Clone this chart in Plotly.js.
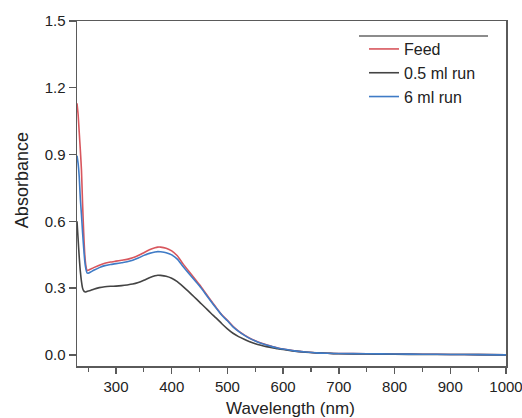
<!DOCTYPE html>
<html>
<head>
<meta charset="utf-8">
<script src="https://cdn.plot.ly/plotly-3.0.1.min.js"></script>
<style>html,body{margin:0;padding:0;background:#fff;}#chart{width:522px;height:418px;}</style>
</head>
<body>
<div id="chart"></div>
<script>
const wavelength = [230, 232, 234, 236, 238, 240, 242, 244, 246, 248, 250, 255, 260, 270, 280, 290, 300, 310, 320, 330, 340, 350, 360, 370, 375, 380, 390, 400, 410, 420, 430, 440, 450, 460, 470, 480, 490, 500, 510, 520, 530, 540, 550, 560, 570, 580, 590, 600, 620, 640, 660, 680, 700, 750, 800, 850, 900, 950, 1000];
const feed = [1.13, 1.08, 1.0, 0.92, 0.83, 0.68, 0.55, 0.45, 0.40, 0.38, 0.38, 0.386, 0.392, 0.403, 0.412, 0.417, 0.421, 0.425, 0.429, 0.436, 0.446, 0.459, 0.472, 0.481, 0.484, 0.484, 0.479, 0.467, 0.445, 0.41, 0.378, 0.347, 0.315, 0.28, 0.245, 0.212, 0.18, 0.155, 0.128, 0.107, 0.09, 0.075, 0.063, 0.053, 0.045, 0.038, 0.031, 0.026, 0.018, 0.013, 0.009, 0.007, 0.006, 0.005, 0.004, 0.003, 0.002, 0.001, 0.0];
const run05 = [0.60, 0.52, 0.44, 0.375, 0.33, 0.30, 0.288, 0.283, 0.283, 0.285, 0.287, 0.29, 0.295, 0.302, 0.306, 0.308, 0.309, 0.311, 0.314, 0.318, 0.325, 0.335, 0.346, 0.355, 0.358, 0.357, 0.353, 0.344, 0.329, 0.308, 0.285, 0.261, 0.237, 0.213, 0.188, 0.165, 0.14, 0.117, 0.097, 0.082, 0.07, 0.059, 0.05, 0.043, 0.037, 0.032, 0.028, 0.024, 0.017, 0.012, 0.009, 0.007, 0.005, 0.004, 0.003, 0.002, 0.002, 0.001, 0.0];
const run6 = [0.895, 0.86, 0.80, 0.70, 0.63, 0.55, 0.48, 0.42, 0.385, 0.368, 0.367, 0.373, 0.38, 0.392, 0.401, 0.406, 0.41, 0.414, 0.418, 0.425, 0.435, 0.447, 0.456, 0.462, 0.464, 0.463, 0.459, 0.449, 0.43, 0.398, 0.368, 0.339, 0.309, 0.276, 0.242, 0.209, 0.178, 0.153, 0.126, 0.106, 0.089, 0.074, 0.062, 0.052, 0.044, 0.037, 0.031, 0.026, 0.018, 0.013, 0.009, 0.007, 0.006, 0.005, 0.004, 0.003, 0.002, 0.001, 0.0];
const seriesNames = ['Feed', '0.5 ml run', '6 ml run'];
const yTicks = [0.0, 0.3, 0.6, 0.9, 1.2, 1.5];
const xTicks = [300, 400, 500, 600, 700, 800, 900, 1000];

const font = 'Liberation Sans, Arial, sans-serif';
const traces = [
  {x: wavelength, y: feed, name: seriesNames[0], mode: 'lines', line: {color: '#d8565d', width: 1.6, shape: 'spline', smoothing: 0.6}},
  {x: wavelength, y: run05, name: seriesNames[1], mode: 'lines', line: {color: '#444444', width: 1.6, shape: 'spline', smoothing: 0.6}},
  {x: wavelength, y: run6, name: seriesNames[2], mode: 'lines', line: {color: '#3f7bc6', width: 1.6, shape: 'spline', smoothing: 0.6}}
];
const axisColor = '#5a5a5a';
const layout = {
  width: 522, height: 418,
  margin: {l: 77, r: 16, t: 21, b: 52},
  paper_bgcolor: '#fff', plot_bgcolor: '#fff',
  font: {family: font, size: 15, color: '#222'},
  showlegend: true,
  legend: {x: 0.669, y: 0.968, xanchor: 'left', yanchor: 'top', bgcolor: 'rgba(0,0,0,0)',
           font: {family: font, size: 16, color: '#222'}},
  xaxis: {range: [230, 1000], tickvals: xTicks, ticks: 'outside', ticklen: 6, tickwidth: 1.3,
          tickcolor: axisColor, showline: true, linecolor: axisColor, linewidth: 1.5, mirror: true,
          showgrid: false, zeroline: false, ticklabeloverflow: 'allow',
          minor: {dtick: 50, tick0: 250, ticks: 'outside', ticklen: 4, tickcolor: axisColor, tickwidth: 1.2, showgrid: false},
          tickfont: {family: font, size: 15, color: '#222'}},
  yaxis: {range: [-0.05, 1.5], tickvals: yTicks, tickformat: '.1f', ticks: 'outside', ticklen: 7, tickwidth: 1.3,
          tickcolor: axisColor, showline: true, linecolor: axisColor, linewidth: 1.5, mirror: true,
          showgrid: false, zeroline: false,
          tickfont: {family: font, size: 15, color: '#222'}},
  annotations: [
    {text: 'Absorbance', xref: 'paper', yref: 'paper', x: -0.128, y: 0.539, textangle: -90,
     showarrow: false, xanchor: 'center', yanchor: 'middle', font: {family: font, size: 18, color: '#222'}},
    {text: 'Wavelength (nm)', xref: 'paper', yref: 'paper', x: 0.497, y: -0.122,
     showarrow: false, xanchor: 'center', yanchor: 'middle', font: {family: font, size: 17, color: '#222'}}
  ],
  shapes: [
    {type: 'line', xref: 'paper', yref: 'paper', x0: (359-77)/429, x1: (488-77)/429, y0: (366-36)/345, y1: (366-36)/345,
     line: {color: '#666', width: 1.3}}
  ]
};
Plotly.newPlot('chart', traces, layout, {displayModeBar: false, staticPlot: true});
</script>
</body>
</html>
